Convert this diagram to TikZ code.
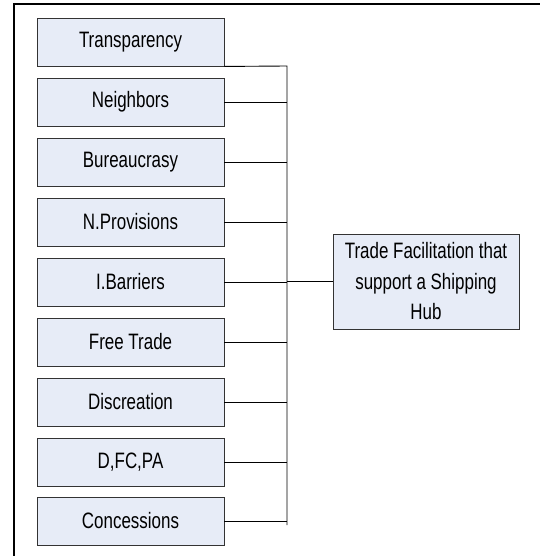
\documentclass[tikz,border=0pt]{standalone}
\usepackage{fontspec}
\setmainfont{Liberation Sans}[FakeStretch=0.76]
\usepackage{tikz}
\definecolor{boxblue}{RGB}{231,236,247}
\tikzset{every path/.style={line width=0.9bp}}
\tikzset{factor/.style={draw=black!80, fill=boxblue, minimum width=187bp, minimum height=48bp, inner sep=0pt, font=\fontsize{22.3bp}{30.5bp}\selectfont}}
\tikzset{goal/.style={factor, minimum width=186bp, minimum height=95bp, align=center}}

\begin{document}
\begin{tikzpicture}[x=1bp,y=-1bp]
\useasboundingbox (0,0) rectangle (540,556);
\draw[line width=1.8bp] (540,4) -- (14,4) -- (14,556);
\node[factor] (trans) at (130.5,42) {Transparency};
\node[factor] (neigh) at (130.5,102) {Neighbors};
\node[factor] (bureau) at (130.5,162) {Bureaucrasy};
\node[factor] (nprov) at (130.5,222) {N.Provisions};
\node[factor] (ibarr) at (130.5,282) {I.Barriers};
\node[factor] (freetr) at (130.5,342) {Free Trade};
\node[factor] (discr) at (130.5,402) {Discreation};
\node[factor] (dfcpa) at (130.5,462) {D,FC,PA};
\node[factor] (conc) at (130.5,521) {Concessions};
\node[goal] (hub) at (426,281.5) {Trade Facilitation that\\support a Shipping\\Hub};
% bus line
\coordinate (bustop) at (287,66);
\coordinate (busbot) at (287,525);
\draw (trans.south east) -- (bustop) -- (busbot);
\foreach \f in {neigh,bureau,nprov,ibarr,freetr,discr,dfcpa,conc}
  \draw (\f.east) -- (\f.east -| bustop);
\draw (hub.west) -- (hub.west -| bustop);
\end{tikzpicture}
\end{document}
